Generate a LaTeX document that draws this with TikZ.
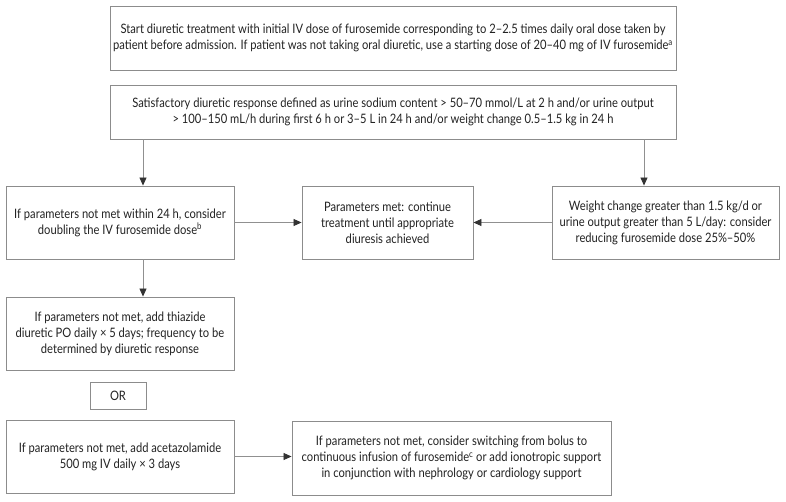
\documentclass[tikz,border=0pt]{standalone}
\usepackage{fontspec}
\setmainfont[FakeStretch=0.86]{Lato}
\usetikzlibrary{arrows.meta}
\definecolor{bordc}{HTML}{8C8C8C}
\definecolor{txtc}{HTML}{222222}
\definecolor{linec}{HTML}{909090}
\begin{document}
\begin{tikzpicture}[x=1pt,y=-1pt,
  box/.style={draw=bordc,line width=0.9pt,fill=white,align=center,text=txtc,
    inner sep=0pt,font=\fontsize{13}{16}\selectfont},
  arr/.style={draw=linec,line width=0.8pt,-{Triangle[length=8pt,width=7pt,fill=black!80,color=black!80]}}]
\useasboundingbox (0,0) rectangle (786,501);
\node[box,minimum width=566,minimum height=64] (top) at (393,38)
 {Start diuretic treatment with initial IV dose of furosemide corresponding to 2--2.5 times daily oral dose taken by\\
  patient before admission. If patient was not taking oral diuretic, use a starting dose of 20--40 mg of IV furosemide\textsuperscript{a}};
\node[box,minimum width=566,minimum height=54] (resp) at (393,112)
 {Satisfactory diuretic response defined as urine sodium content > 50--70 mmol/L at 2 h and/or urine output\\
  > 100--150 mL/h during first 6 h or 3--5 L in 24 h and/or weight change 0.5--1.5 kg in 24 h};
\node[box,minimum width=228,minimum height=73] (dbl) at (120,222.5)
 {If parameters not met within 24 h, consider\\ doubling the IV furosemide dose\textsuperscript{b}};
\node[box,minimum width=171,minimum height=73] (met) at (387.5,222.5)
 {Parameters met: continue\\ treatment until appropriate\\ diuresis achieved};
\node[box,minimum width=227,minimum height=73] (red) at (665.5,222.5)
 {Weight change greater than 1.5 kg/d or\\ urine output greater than 5 L/day: consider\\ reducing furosemide dose 25\%--50\%};
\node[box,minimum width=228,minimum height=73] (thz) at (120,333.5)
 {If parameters not met, add thiazide\\ diuretic PO daily × 5 days; frequency to be\\ determined by diuretic response};
\node[box,minimum width=56,minimum height=27] (or) at (118,395.5) {OR};
\node[box,minimum width=228,minimum height=73] (acz) at (120,456.5)
 {If parameters not met, add acetazolamide\\ 500 mg IV daily × 3 days};
\node[box,minimum width=319,minimum height=74] (inf) at (451.5,458)
 {If parameters not met, consider switching from bolus to\\ continuous infusion of furosemide\textsuperscript{c} or add ionotropic support\\ in conjunction with nephrology or cardiology support};
\draw[arr] (resp.south -| 143,0) -- (dbl.north -| 143,0);
\draw[arr] (resp.south -| 644,0) -- (red.north -| 644,0);
\draw[arr] (dbl.east) -- (met.west);
\draw[arr] (red.west) -- (met.east);
\draw[arr] (dbl.south -| 143,0) -- (thz.north -| 143,0);
\draw[arr] (acz.east) -- (acz.east -| inf.west);
\end{tikzpicture}
\end{document}
